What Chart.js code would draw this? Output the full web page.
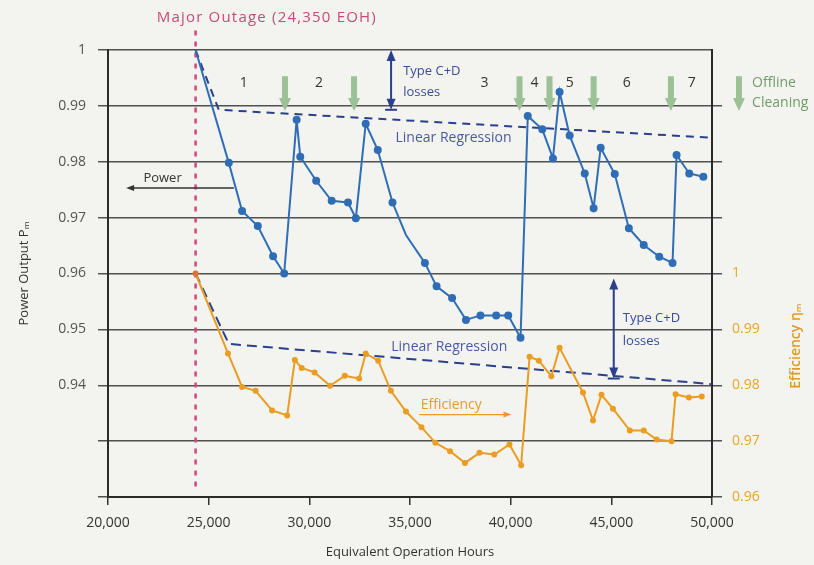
<!DOCTYPE html>
<html>
<head>
<meta charset="utf-8">
<script src="https://cdn.jsdelivr.net/npm/chart.js@4.4.1/dist/chart.umd.min.js"></script>
<style>
html, body { margin: 0; padding: 0; background: #f3f4ef; }
#wrap { width: 814px; height: 565px; }
</style>
</head>
<body>
<div id="wrap"><canvas id="chart" width="814" height="565"></canvas></div>
<script>
// values
const powerHours = [24350, 26000, 26660, 27440, 28200, 28750, 29370, 29550, 30340, 31110,
    31920, 32310, 32800, 33400, 34130, 34800, 35740, 36320, 37090, 37780,
    38500, 39280, 39880, 40490, 40850, 41570, 42100, 42430, 42930, 43680,
    44120, 44470, 45170, 45870, 46610, 47380, 48040, 48240, 48870, 49570];
const powerValues = [1.000, 0.9798, 0.9712, 0.9685, 0.9631, 0.9600, 0.9875, 0.9809, 0.9766, 0.9730,
    0.9727, 0.9699, 0.9868, 0.9821, 0.9727, 0.9669, 0.9619, 0.9577, 0.9556, 0.9517,
    0.9525, 0.9525, 0.9525, 0.9485, 0.9882, 0.9858, 0.9806, 0.9925, 0.9847, 0.9779,
    0.9717, 0.9825, 0.9778, 0.9681, 0.9651, 0.9630, 0.9619, 0.9812, 0.9779, 0.9773];

const effHours = [24350, 25960, 26660, 27330, 28150, 28900, 29280, 29620, 30260, 31030,
    31760, 32470, 32800, 33420, 34050, 34800, 35570, 36260, 36990, 37730,
    38450, 39190, 39940, 40520, 40940, 41400, 42020, 42430, 43590, 44090,
    44510, 45080, 45920, 46610, 47250, 47990, 48190, 48850, 49490];
const effValues = [1.000, 0.9857, 0.9797, 0.9790, 0.9755, 0.9746, 0.9845, 0.9831, 0.9823, 0.9799,
    0.9817, 0.9812, 0.9857, 0.9844, 0.9790, 0.9753, 0.9725, 0.9697, 0.9682, 0.9661,
    0.9679, 0.9676, 0.9694, 0.9657, 0.9851, 0.9844, 0.9816, 0.9867, 0.9787, 0.9737,
    0.9783, 0.9758, 0.9719, 0.9719, 0.9703, 0.9700, 0.9784, 0.9778, 0.9780];

const powerTrendHours = [24350, 25500, 50000];
const powerTrendValues = [1.000, 0.9893, 0.9843];
const effTrendHours = [24350, 26000, 50000];
const effTrendValues = [1.000, 0.9874, 0.9802];

const outageHour = 24350;
const cleaningHours = [28790, 32220, 40440, 41930, 44120, 47960];
const phaseLabels = ['1', '2', '3', '4', '5', '6', '7'];
const phaseHours = [26740, 30480, 38700, 41190, 42930, 45770, 49000];

const FONT = '"Open Sans", "DejaVu Sans", sans-serif';
const BLUE = '#2f6db6';
const ORANGE = '#eb9c22';
const NAVY = '#2b3f8c';
const GREEN = '#9dc197';

function toPoints(xs, ys) {
    return xs.map((x, i) => ({ x: x, y: ys[i] }));
}

function fmt(v) {
    return (Math.round(v * 100) / 100).toString();
}

function text(ctx, str, x, y, color, align, size, weight) {
    ctx.fillStyle = color;
    ctx.font = (weight || '') + ' ' + (size || 13) + 'px ' + FONT;
    ctx.textAlign = align || 'left';
    ctx.textBaseline = 'middle';
    ctx.fillText(str, x, y);
}

function head(ctx, x, y, dx, dy, len, half) {
    // arrow head pointing in (dx, dy)
    ctx.beginPath();
    ctx.moveTo(x, y);
    ctx.lineTo(x - dx * len - dy * half, y - dy * len - dx * half);
    ctx.lineTo(x - dx * len + dy * half, y - dy * len + dx * half);
    ctx.closePath();
    ctx.fill();
}

function doubleArrow(ctx, x, y0, y1, color) {
    ctx.strokeStyle = color;
    ctx.fillStyle = color;
    ctx.lineWidth = 2;
    ctx.beginPath();
    ctx.moveTo(x, y0 + 8);
    ctx.lineTo(x, y1 - 8);
    ctx.stroke();
    head(ctx, x, y0, 0, -1, 11, 4.5);
    head(ctx, x, y1, 0, 1, 11, 4.5);
    ctx.beginPath();
    ctx.moveTo(x - 6, y1);
    ctx.lineTo(x + 6, y1);
    ctx.stroke();
}

function sideArrow(ctx, x0, x1, y, color) {
    const dir = x1 > x0 ? 1 : -1;
    ctx.strokeStyle = color;
    ctx.fillStyle = color;
    ctx.lineWidth = 1.3;
    ctx.beginPath();
    ctx.moveTo(x0, y);
    ctx.lineTo(x1 - dir * 6, y);
    ctx.stroke();
    head(ctx, x1, y, dir, 0, 8, 3);
}

function greenArrow(ctx, x, top, tip) {
    ctx.fillStyle = GREEN;
    ctx.fillRect(x - 3, top, 6, tip - top - 11);
    ctx.beginPath();
    ctx.moveTo(x - 6, tip - 13);
    ctx.lineTo(x + 6, tip - 13);
    ctx.lineTo(x, tip);
    ctx.closePath();
    ctx.fill();
}

const background = {
    id: 'background',
    beforeDraw(chart) {
        const ctx = chart.ctx;
        ctx.save();
        ctx.fillStyle = '#f3f4ef';
        ctx.fillRect(0, 0, chart.width, chart.height);
        ctx.restore();
    }
};

const annotations = {
    id: 'annotations',
    beforeDatasetsDraw(chart) {
        const { ctx, scales: { x, y } } = chart;
        ctx.save();
        // major outage marker
        const ox = x.getPixelForValue(outageHour);
        ctx.strokeStyle = '#d4457a';
        ctx.lineWidth = 2.5;
        ctx.setLineDash([5, 6]);
        ctx.beginPath();
        ctx.moveTo(ox, y.getPixelForValue(1.0035));
        ctx.lineTo(ox, y.getPixelForValue(0.9215));
        ctx.stroke();
        ctx.setLineDash([]);
        // offline cleaning arrows
        cleaningHours.forEach(h => {
            greenArrow(ctx, x.getPixelForValue(h), y.getPixelForValue(0.9953), y.getPixelForValue(0.9891));
        });
        greenArrow(ctx, x.getPixelForValue(51340), y.getPixelForValue(0.9953), y.getPixelForValue(0.9891));
        ctx.restore();
    },
    afterDatasetsDraw(chart) {
        const { ctx, scales: { x, y, y1 } } = chart;
        ctx.save();
        ctx.letterSpacing = '1.2px';
        text(ctx, 'Major Outage (24,350 EOH)', x.getPixelForValue(27890), y.getPixelForValue(1.0057), '#c94a78', 'center', 15);
        ctx.letterSpacing = '0px';

        phaseLabels.forEach((lab, i) => {
            text(ctx, lab, x.getPixelForValue(phaseHours[i]), y.getPixelForValue(0.9941), '#333', 'center', 14);
        });

        text(ctx, 'Offline', x.getPixelForValue(51990), y.getPixelForValue(0.9941), '#6f9d69', 'left', 14);
        text(ctx, 'Cleaning', x.getPixelForValue(51990), y.getPixelForValue(0.9905), '#6f9d69', 'left', 14);

        // upper C+D losses
        doubleArrow(ctx, x.getPixelForValue(34060), y.getPixelForValue(1.0), y.getPixelForValue(0.9893), NAVY);
        text(ctx, 'Type C+D', x.getPixelForValue(34660), y.getPixelForValue(0.9961), '#3a4c9c', 'left', 13);
        text(ctx, 'losses', x.getPixelForValue(34660), y.getPixelForValue(0.9925), '#3a4c9c', 'left', 13);
        text(ctx, 'Linear Regression', x.getPixelForValue(37160), y.getPixelForValue(0.98425), '#4a5aa0', 'center', 14);

        // power label
        text(ctx, 'Power', x.getPixelForValue(22710), y.getPixelForValue(0.9771), '#333', 'center', 13);
        sideArrow(ctx, x.getPixelForValue(26250), x.getPixelForValue(20900), y.getPixelForValue(0.9753), '#333');

        // lower C+D losses
        doubleArrow(ctx, x.getPixelForValue(45120), y1.getPixelForValue(0.9991), y1.getPixelForValue(0.9812), NAVY);
        text(ctx, 'Type C+D', x.getPixelForValue(45570), y1.getPixelForValue(0.9920), '#3a4c9c', 'left', 13);
        text(ctx, 'losses', x.getPixelForValue(45570), y1.getPixelForValue(0.9879), '#3a4c9c', 'left', 13);
        text(ctx, 'Linear Regression', x.getPixelForValue(36950), y1.getPixelForValue(0.98684), '#4a5aa0', 'center', 14);

        // efficiency label
        text(ctx, 'Efficiency', x.getPixelForValue(37050), y1.getPixelForValue(0.97653), ORANGE, 'center', 14);
        sideArrow(ctx, x.getPixelForValue(35460), x.getPixelForValue(40040), y1.getPixelForValue(0.97476), ORANGE);

        // right axis title
        ctx.translate(chart.chartArea.right + 84, y1.getPixelForValue(0.987));
        ctx.rotate(-Math.PI / 2);
        text(ctx, 'Efficiency \u03b7\u2098', 0, 0, '#e39a25', 'center', 14, '600');
        ctx.restore();
    }
};

const ctx = document.getElementById('chart').getContext('2d');
new Chart(ctx, {
    type: 'line',
    data: {
        datasets: [
            {
                data: toPoints(powerHours, powerValues),
                yAxisID: 'y',
                borderColor: BLUE,
                backgroundColor: BLUE,
                borderWidth: 2,
                pointRadius: c => (c.dataIndex === 0 || c.dataIndex === 15) ? 0 : 3,
                tension: 0
            },
            {
                data: toPoints(effHours, effValues),
                yAxisID: 'y1',
                borderColor: ORANGE,
                backgroundColor: c => c.dataIndex === 0 ? '#e3702c' : ORANGE,
                borderWidth: 2,
                pointRadius: 3,
                pointBorderWidth: 0,
                tension: 0
            },
            {
                data: toPoints(powerTrendHours, powerTrendValues),
                yAxisID: 'y',
                borderColor: NAVY,
                borderWidth: 2,
                borderDash: [8, 6],
                pointRadius: 0
            },
            {
                data: toPoints(effTrendHours, effTrendValues),
                yAxisID: 'y1',
                borderColor: NAVY,
                borderWidth: 2,
                borderDash: [10, 6],
                pointRadius: 0
            }
        ]
    },
    options: {
        responsive: false,
        animation: false,
        devicePixelRatio: 1,
        layout: { padding: { top: 50, left: 0, right: 0, bottom: 0 } },
        plugins: {
            legend: { display: false },
            tooltip: { enabled: false }
        },
        scales: {
            x: {
                type: 'linear',
                min: 20000,
                max: 50000,
                afterFit: s => { s.height = 68; },
                ticks: {
                    stepSize: 5000,
                    padding: 10,
                    color: '#333',
                    font: { family: FONT, size: 14 },
                    callback: v => v.toLocaleString('en-US')
                },
                grid: { drawOnChartArea: false, tickLength: 8, color: '#333', lineWidth: 1.5 },
                border: { color: '#2a2a2a', width: 2 },
                title: {
                    display: true,
                    text: 'Equivalent Operation Hours',
                    color: '#333',
                    font: { family: FONT, size: 13 },
                    padding: { top: 4, bottom: 5 }
                }
            },
            y: {
                position: 'left',
                min: 0.92,
                max: 1.0,
                afterFit: s => { s.width = 108; },
                ticks: {
                    stepSize: 0.01,
                    padding: 12,
                    color: '#555',
                    font: { family: FONT, size: 14 },
                    callback: v => v >= 0.935 ? fmt(v) : ''
                },
                grid: { color: '#505050', lineWidth: 1.5, tickLength: 10 },
                border: { color: '#2a2a2a', width: 2 },
                title: {
                    display: true,
                    text: 'Power Output P\u2098',
                    color: '#333',
                    font: { family: FONT, size: 13 },
                    padding: { top: 16 }
                }
            },
            y1: {
                position: 'right',
                min: 0.96,
                max: 1.04,
                afterFit: s => { s.width = 102; },
                ticks: {
                    stepSize: 0.01,
                    padding: 10,
                    color: '#e9a331',
                    font: { family: FONT, size: 14 },
                    callback: v => v <= 1.0005 ? fmt(v) : ''
                },
                grid: {
                    drawOnChartArea: false,
                    tickLength: 10,
                    lineWidth: 1.5,
                    color: c => (c.tick && c.tick.value > 1.035) ? 'rgba(0,0,0,0)' : '#505050'
                },
                border: { color: '#2a2a2a', width: 2 }
            }
        }
    },
    plugins: [background, annotations]
});
</script>
</body>
</html>
